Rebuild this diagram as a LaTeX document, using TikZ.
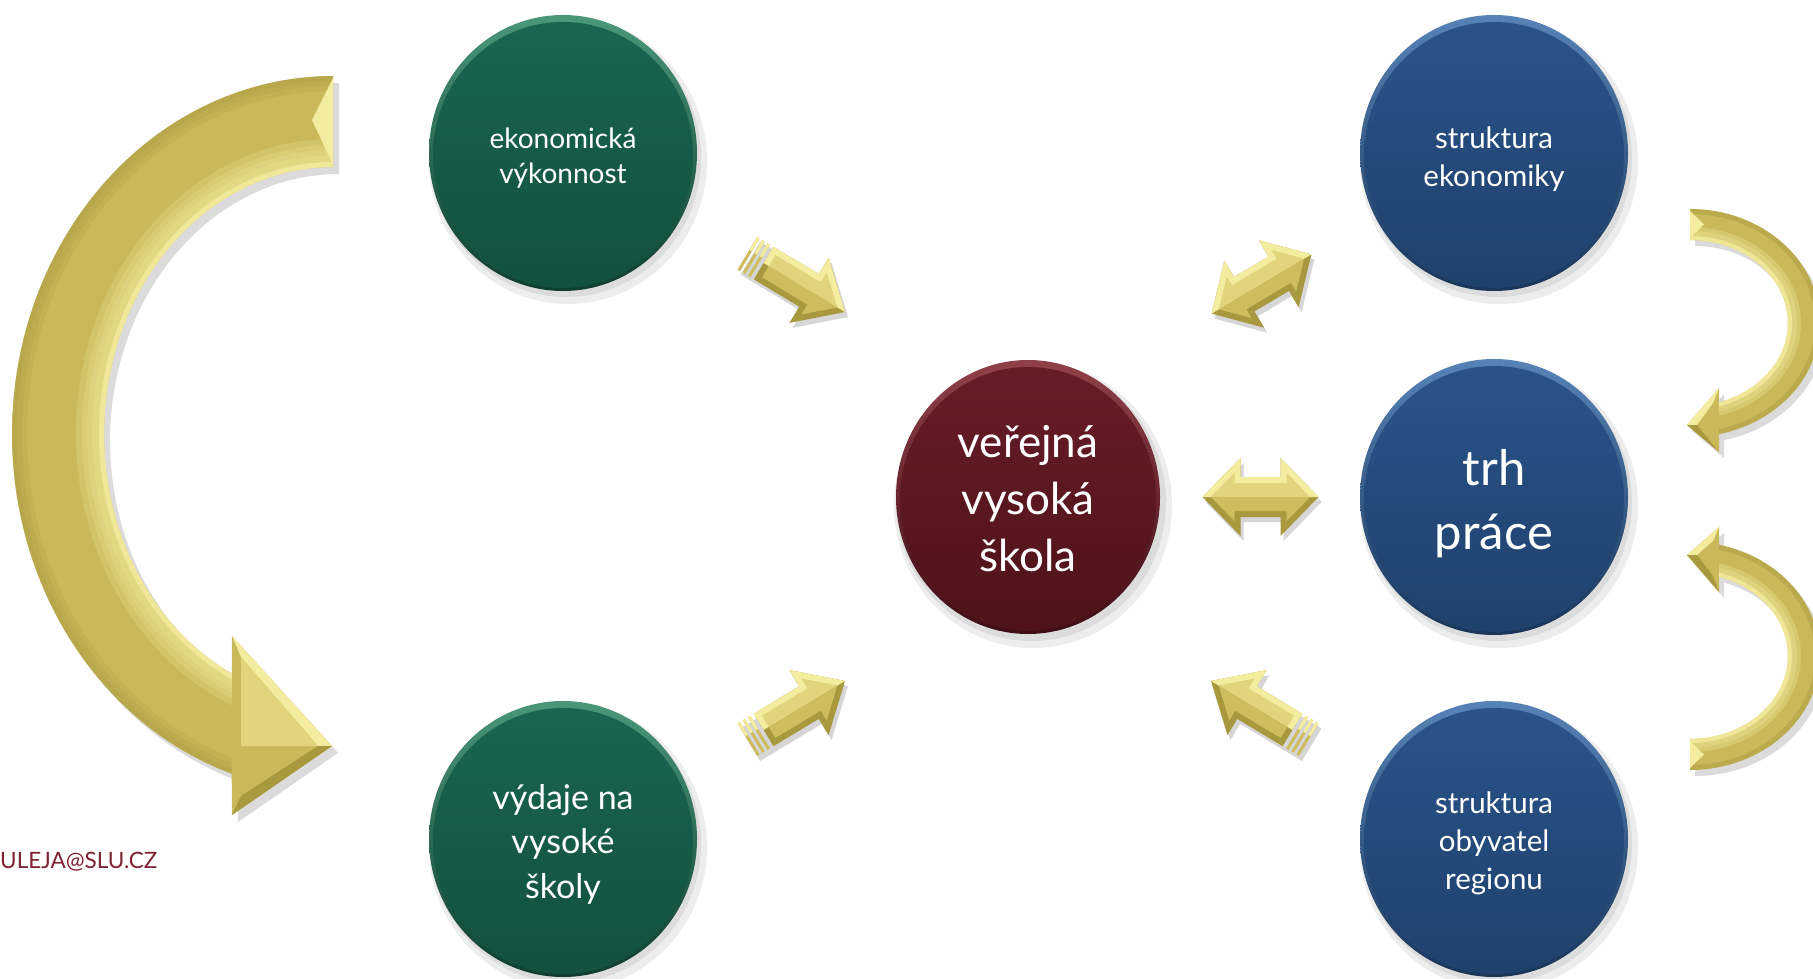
\documentclass[tikz,border=0pt]{standalone}
\usepackage{fontspec}
\setmainfont{Lato}
\usetikzlibrary{shapes.geometric}
\definecolor{gLight}{HTML}{F4EC9E}
\definecolor{gFaceU}{HTML}{E2D47C}
\definecolor{gFace}{HTML}{CDBD5E}
\definecolor{gBase}{HTML}{C9B95A}
\definecolor{gDark}{HTML}{A8983E}
\definecolor{grRim}{HTML}{4A977A}
\definecolor{grTop}{HTML}{196650}
\definecolor{grBot}{HTML}{13503E}
\definecolor{grDark}{HTML}{0F3D2F}
\definecolor{blRim}{HTML}{5683B6}
\definecolor{blTop}{HTML}{2A548A}
\definecolor{blBot}{HTML}{1F416C}
\definecolor{blDark}{HTML}{193558}
\definecolor{mrRim}{HTML}{904049}
\definecolor{mrTop}{HTML}{681D27}
\definecolor{mrBot}{HTML}{4E1219}
\definecolor{mrDark}{HTML}{3E0D15}
\definecolor{mailc}{HTML}{7E2233}
\newcommand\sarrow[4]{%
\begin{scope}[shift={(#1+3,#2+5)},rotate=#3,#4]
\fill[black,opacity=.16] (0,0) -- (-42,-38) -- (-42,-19) -- (-114,-19) -- (-114,19) -- (-42,19) -- (-42,38) -- cycle;
\end{scope}
\begin{scope}[shift={(#1,#2)},rotate=#3,#4]
\fill[gDark] (0,0) -- (-42,-38) -- (-42,-19) -- (-95,-19) -- (-95,19) -- (-42,19) -- (-42,38) -- cycle;
\fill[gLight] (0,0) -- (-42,-38) -- (-42,-19) -- (-95,-19) -- (-95,0) -- cycle;
\fill[gFaceU] (-9,0) -- (-36,-24.5) -- (-36,-13) -- (-89,-13) -- (-89,0) -- cycle;
\fill[gFace] (-9,0) -- (-36,24.5) -- (-36,13) -- (-89,13) -- (-89,0) -- cycle;
\foreach \s in {99,105,111}{\fill[gFace] (-\s,-19) rectangle (-\s-3,19); \fill[gLight] (-\s,-19) rectangle (-\s-3,-4);}
\end{scope}}
\newcommand\darrow[3]{%
\begin{scope}[shift={(#1+3,#2+5)},rotate=#3]
\fill[black,opacity=.16] (58,0) -- (20,-39) -- (20,-20) -- (-20,-20) -- (-20,-39) -- (-58,0) -- (-20,39) -- (-20,20) -- (20,20) -- (20,39) -- cycle;
\end{scope}
\begin{scope}[shift={(#1,#2)},rotate=#3]
\fill[gDark] (58,0) -- (20,-39) -- (20,-20) -- (-20,-20) -- (-20,-39) -- (-58,0) -- (-20,39) -- (-20,20) -- (20,20) -- (20,39) -- cycle;
\fill[gLight] (58,0) -- (20,-39) -- (20,-20) -- (-20,-20) -- (-20,-39) -- (-58,0) -- cycle;
\fill[gFaceU] (49.6,0) -- (26,-24.2) -- (26,-14) -- (-26,-14) -- (-26,-24.2) -- (-49.6,0) -- cycle;
\fill[gFace] (49.6,0) -- (26,24.2) -- (26,14) -- (-26,14) -- (-26,24.2) -- (-49.6,0) -- cycle;
\end{scope}}
\def\bigall{plot[domain=270:108.4,samples=90] ({333+321*cos(\x)},{434+358*sin(\x)}) -- (232,815) -- (332,746) -- (232,636) -- plot[domain=116.2:270,samples=90] ({333+229*cos(\x)},{434+267*sin(\x)}) -- cycle}
\def\bigshaft{plot[domain=270:108.4,samples=90] ({333+321*cos(\x)},{434+358*sin(\x)}) -- plot[domain=116.2:270,samples=90] ({333+229*cos(\x)},{434+267*sin(\x)}) -- cycle}
\def\ruall{plot[domain=-90:77.1,samples=60] ({1690+130*cos(\x)},{323+114*sin(\x)}) -- (1719,452) -- (1687,425) -- (1719,388) -- plot[domain=72.8:-90,samples=60] ({1690+98*cos(\x)},{323+83*sin(\x)}) -- cycle}
\def\rushaft{plot[domain=-90:77.1,samples=60] ({1690+130*cos(\x)},{323+114*sin(\x)}) -- plot[domain=72.8:-90,samples=60] ({1690+98*cos(\x)},{323+83*sin(\x)}) -- cycle}
\def\rlall{plot[domain=90:-77.1,samples=60] ({1690+130*cos(\x)},{656+114*sin(\x)}) -- (1719,527) -- (1687,555) -- (1719,592) -- plot[domain=-72.8:90,samples=60] ({1690+98*cos(\x)},{656+83*sin(\x)}) -- cycle}
\def\rlshaft{plot[domain=90:-77.1,samples=60] ({1690+130*cos(\x)},{656+114*sin(\x)}) -- plot[domain=-72.8:90,samples=60] ({1690+98*cos(\x)},{656+83*sin(\x)}) -- cycle}
\tikzset{
 bubble/.style={ellipse, minimum width=268pt, minimum height=276pt, inner sep=0pt},
 greenb/.style={bubble, top color=grRim, bottom color=grDark,
   path picture={\shade[top color=grTop, bottom color=grBot] ([yshift=-2pt]path picture bounding box.center) ellipse [x radius=130pt, y radius=133pt];}},
 blueb/.style={bubble, top color=blRim, bottom color=blDark,
   path picture={\shade[top color=blTop, bottom color=blBot] ([yshift=-2pt]path picture bounding box.center) ellipse [x radius=130pt, y radius=133pt];}},
 maroonb/.style={bubble, top color=mrRim, bottom color=mrDark,
   path picture={\shade[top color=mrTop, bottom color=mrBot] ([yshift=-2pt]path picture bounding box.center) ellipse [x radius=128pt, y radius=132pt];}},
 btext/.style={text=white, align=center, inner sep=0pt},
 smalltxt/.style={btext, font=\fontsize{29.5}{38}\selectfont},
 ektxt/.style={btext, font=\fontsize{28}{35}\selectfont},
 midtxt/.style={btext, font=\fontsize{34}{44.5}\selectfont},
 bigtxt/.style={btext, font=\fontsize{44}{57}\selectfont},
 hugetxt/.style={btext, font=\fontsize{49}{64}\selectfont},
 bshadow/.style={black,opacity=.07}
}
\begin{document}
\begin{tikzpicture}[x=1pt,y=-1pt]
\clip (0,0) rectangle (1813,979);
\fill[white] (0,0) rectangle (1813,979);
% big left curved arrow
\begin{scope}[shift={(6,7)}]\fill[black,opacity=.14] \bigall;\end{scope}
\fill[gBase] \bigall;
\begin{scope}
\clip \bigshaft;
\foreach \w in {56,44,34,24}{\draw[gLight,opacity=.22,line width=\w pt] (333,434) ellipse [x radius=229pt, y radius=267pt];}
\draw[gLight,opacity=.8,line width=10pt] (333,434) ellipse [x radius=229pt, y radius=267pt];
\foreach \w in {30,20,10}{\draw[gDark,opacity=.2,line width=\w pt] (333,434) ellipse [x radius=321pt, y radius=358pt];}
\end{scope}
\fill[gLight] (232,636) -- (332,746) -- (318,746) -- (241,657) -- cycle;
\fill[gDark] (232,815) -- (332,746) -- (318,746) -- (241,796) -- cycle;
\fill[gFaceU] (241,657) -- (318,746) -- (241,746) -- cycle;
\fill[gLight] (333,78) -- (333,165) -- (312,120) -- cycle;
% upper right curved arrow
\begin{scope}[shift={(5,6)}]\fill[black,opacity=.14] \ruall;\end{scope}
\fill[gBase] \ruall;
\begin{scope}
\clip \rushaft;
\foreach \w in {26,18}{\draw[gLight,opacity=.3,line width=\w pt] (1690,323) ellipse [x radius=98pt, y radius=83pt];}
\draw[gLight,opacity=.8,line width=8pt] (1690,323) ellipse [x radius=98pt, y radius=83pt];
\draw[gDark,opacity=.45,line width=10pt] (1690,323) ellipse [x radius=130pt, y radius=114pt];
\end{scope}
\fill[gLight] (1719,388) -- (1687,425) -- (1697,425) -- (1713,403) -- cycle;
\fill[gDark] (1719,452) -- (1687,425) -- (1697,425) -- (1713,445) -- cycle;
\fill[gLight] (1690,211) -- (1704,224.5) -- (1690,238) -- cycle;
% lower right curved arrow
\begin{scope}[shift={(5,6)}]\fill[black,opacity=.14] \rlall;\end{scope}
\fill[gBase] \rlall;
\begin{scope}
\clip \rlshaft;
\foreach \w in {26,18}{\draw[gLight,opacity=.3,line width=\w pt] (1690,656) ellipse [x radius=98pt, y radius=83pt];}
\draw[gLight,opacity=.8,line width=8pt] (1690,656) ellipse [x radius=98pt, y radius=83pt];
\draw[gDark,opacity=.45,line width=10pt] (1690,656) ellipse [x radius=130pt, y radius=114pt];
\end{scope}
\fill[gLight] (1719,527) -- (1687,555) -- (1697,555) -- (1713,541) -- cycle;
\fill[gDark] (1719,592) -- (1687,555) -- (1697,555) -- (1713,576) -- cycle;
\fill[gLight] (1690,741) -- (1704,754.5) -- (1690,768) -- cycle;
% shadows of circles
\foreach \cx/\cy in {563/153,563/839,1028/497,1494/153,1494/497,1494/839}{
  \fill[bshadow] (\cx+5,\cy+8) ellipse [x radius=139pt, y radius=143pt];
  \fill[bshadow] (\cx+3,\cy+5) ellipse [x radius=135pt, y radius=139pt];
}
% circles
\node[greenb] (ek) at (563,153) {};
\node[greenb] (vy) at (563,839) {};
\node[maroonb, minimum width=264pt, minimum height=274pt] (vvs) at (1028,497) {};
\node[blueb] (se) at (1494,153) {};
\node[blueb] (tp) at (1494,497) {};
\node[blueb] (so) at (1494,839) {};
% texts
\node[ektxt] (ekt) at ([yshift=-5pt]ek.center) {ekonomická\\výkonnost};
\node[midtxt] (vyt) at ([yshift=-5pt]vy.center) {výdaje na\\vysoké\\školy};
\node[bigtxt] (vvst) at ([yshift=-2pt]vvs.center) {veřejná\\vysoká\\škola};
\node[smalltxt] (set) at ([yshift=-6pt]se.center) {struktura\\ekonomiky};
\node[hugetxt] (tpt) at ([yshift=-7pt]tp.center) {trh\\práce};
\node[smalltxt] (sot) at ([yshift=-4pt]so.center) {struktura\\obyvatel\\regionu};
% straight arrows
\sarrow{845}{312}{-31}{}
\sarrow{845}{681}{31}{}
\sarrow{1211}{681}{149}{yscale=-1}
\darrow{1261.5}{284}{30.7}
\darrow{1260.5}{497}{0}
% e-mail
\node[anchor=west, inner sep=0pt, text=mailc, font=\fontsize{22.5}{26}\selectfont] (mail) at (0,862) {ULEJA@SLU.CZ};
\end{tikzpicture}
\end{document}
